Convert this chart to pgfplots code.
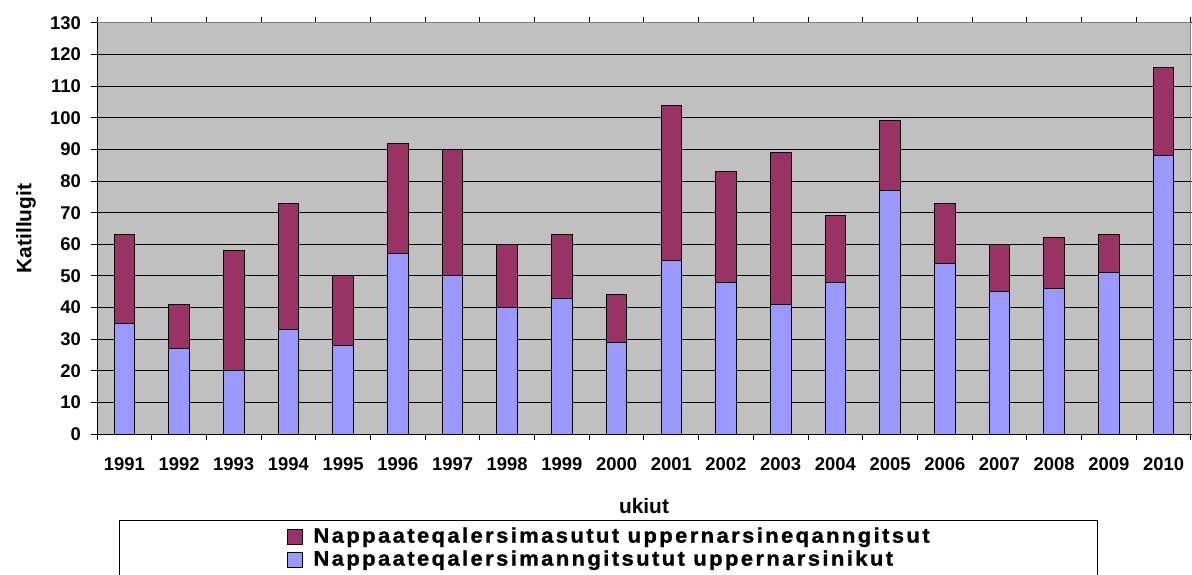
\documentclass[border=0pt]{standalone}
\usepackage{fontspec}
\setmainfont{Liberation Sans}
\newfontfamily\legfont[LetterSpace=11.5, FakeStretch=1.05, FakeBold=1.2]{Liberation Sans}
\usepackage{pgfplots}
\usepackage{pgfplotstable}
\pgfplotsset{compat=1.18}
\definecolor{barred}{HTML}{993366}
\definecolor{barblue}{HTML}{9999FF}
\definecolor{plotgray}{HTML}{C0C0C0}
\definecolor{framegray}{HTML}{808080}

% year, uppernarsinikut (blue), uppernarsineqanngitsut (red)
\pgfplotstableread{
year blue red
1991 35 28
1992 27 14
1993 20 38
1994 33 40
1995 28 22
1996 57 35
1997 50 40
1998 40 20
1999 43 20
2000 29 15
2001 55 49
2002 48 35
2003 41 48
2004 48 21
2005 77 22
2006 54 19
2007 45 15
2008 46 16
2009 51 12
2010 88 28
}\yeardata

\begin{document}
\begin{tikzpicture}
\begin{axis}[
    at={(97bp,140.7bp)}, anchor=south west,
    width=1094bp, height=411.6bp, scale only axis,
    ybar stacked, bar width=20.6bp,
    xmin=1990.5, xmax=2010.5, ymin=0, ymax=130,
    xtick={1991,...,2010},
    minor xtick={1990.5,1991.5,...,2010.5},
    ytick={0,10,...,130},
    tick align=outside,
    major tick length=6bp, minor tick length=6bp,
    tick style={black, line width=1bp},
    major x tick style={draw=none},
    ymajorgrids, grid style={black, line width=1bp},
    axis background/.style={fill=plotgray},
    axis line style={framegray, line width=1bp},
    /pgf/number format/assume math mode=true,
    /pgf/number format/1000 sep={},
    ticklabel style={font=\fontsize{18.5}{18.5}\selectfont\bfseries},
    yticklabel style={anchor=east, inner sep=0pt, xshift=-10bp},
    xticklabel style={anchor=north, inner sep=0pt, yshift=-17bp},
    xlabel={ukiut}, ylabel={Katillugit},
    every axis x label/.style={at={(axis description cs:0.5,-0.1742)}, anchor=center,
        inner sep=0pt, font=\fontsize{21}{21}\selectfont\bfseries},
    every axis y label/.style={at={(axis description cs:-0.0649,0.5)}, rotate=90, anchor=center,
        inner sep=0pt, font=\fontsize{21}{21}\selectfont\bfseries},
    reverse legend,
    legend image code/.code={\draw[#1] (0bp,-2bp) rectangle (15bp,13bp);},
    legend style={
        at={(axis description cs:0.0201,-0.2082)}, anchor=north west,
        draw=black, line width=1bp, fill=white,
        inner xsep=168bp, inner ysep=7bp,
        nodes={inner sep=0pt, anchor=base west},
        row sep=5.3bp, column sep=10bp,
        font=\fontsize{21}{21}\selectfont\legfont\bfseries},
]
\addplot[fill=barblue, draw=black, line width=1bp] table[x=year, y=blue] {\yeardata};
\addplot[fill=barred, draw=black, line width=1bp] table[x=year, y=red] {\yeardata};
\legend{Nappaateqalersimanngitsutut uppernarsinikut,
        Nappaateqalersimasutut uppernarsineqanngitsut}
\draw[framegray, line width=1bp] (rel axis cs:0,1) -- (rel axis cs:1,1) -- (rel axis cs:1,0);
\draw[black, line width=1.3bp] (rel axis cs:0,1) -- (rel axis cs:0,0) -- (rel axis cs:1,0);
\end{axis}
\pgfresetboundingbox
\path[use as bounding box] (0,0) rectangle (1192bp,575bp);
\end{tikzpicture}
\end{document}
